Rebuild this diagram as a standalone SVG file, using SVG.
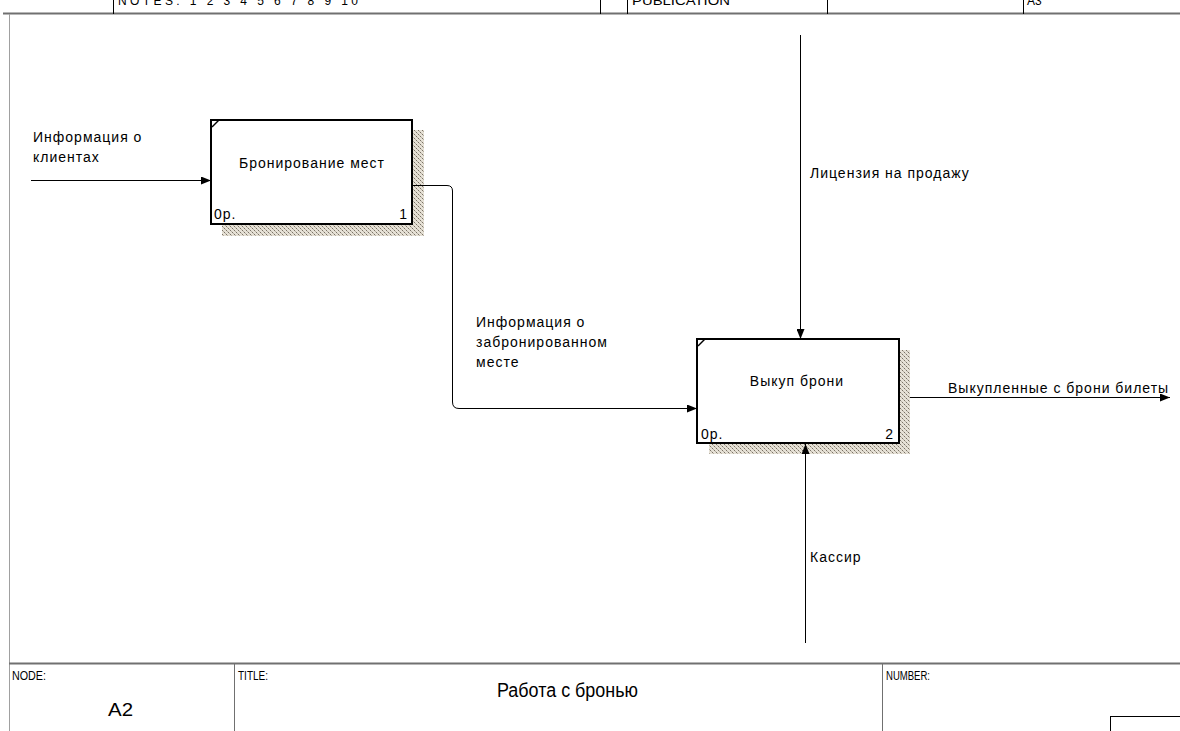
<svg xmlns="http://www.w3.org/2000/svg" width="1180" height="731" viewBox="0 0 1180 731">
  <style>
    .lbl { font-family: "Liberation Sans", Arial, sans-serif; font-size: 14px; letter-spacing: 1px; fill: #000; }
    .frm { font-family: "Liberation Sans", Arial, sans-serif; font-size: 12px; fill: #000; }
    .box { fill: #fff; stroke: #000; stroke-width: 2; }
    .shadow { fill: url(#hatch); }
    .wire { fill: none; stroke: #000; stroke-width: 1; }
    .frame { stroke: #707070; stroke-width: 2; fill: none; }
    .thin { stroke: #000; stroke-width: 1; fill: none; }
  </style>
  <defs>
    <pattern id="hatch" width="4" height="4" patternUnits="userSpaceOnUse">
      <rect width="4" height="4" fill="#e6e1d6"/>
      <rect x="0" y="0" width="1" height="1" fill="#7a7266"/>
      <rect x="2" y="2" width="1" height="1" fill="#7a7266"/>
      <rect x="1" y="1" width="1" height="1" fill="#b8b1a4"/>
      <rect x="3" y="3" width="1" height="1" fill="#b8b1a4"/>
    </pattern>
    <marker id="arr" markerWidth="10" markerHeight="8" refX="10" refY="4" orient="auto" markerUnits="userSpaceOnUse">
      <path d="M0,0 L10,4 L0,8 Z" fill="#000"/>
    </marker>
    <clipPath id="topclip"><rect x="0" y="0" width="1180" height="12"/></clipPath>
  </defs>

  <!-- frame: header strip (cut at the top edge) -->
  <g id="header">
    <g clip-path="url(#topclip)">
      <text class="frm" x="118" y="5" font-size="11" textLength="240" lengthAdjust="spacing">NOTES:  1  2  3  4  5  6  7  8  9  10</text>
      <text class="frm" x="632" y="5" font-size="11" textLength="98" lengthAdjust="spacingAndGlyphs">PUBLICATION</text>
      <text class="frm" x="1027" y="5" font-size="11">A3</text>
    </g>
    <line class="frame" x1="3" y1="13.5" x2="1180" y2="13.5"/>
    <line class="thin" x1="113.5" y1="0" x2="113.5" y2="14"/>
    <line class="thin" x1="600.5" y1="0" x2="600.5" y2="14"/>
    <line class="thin" x1="627.5" y1="0" x2="627.5" y2="14"/>
    <line class="thin" x1="827.5" y1="0" x2="827.5" y2="14"/>
    <line class="thin" x1="1023.5" y1="0" x2="1023.5" y2="14"/>
    <line x1="9.5" y1="14" x2="9.5" y2="731" stroke="#a0a0a0" stroke-width="1"/>
  </g>

  <!-- frame: footer -->
  <g id="footer">
    <line class="frame" x1="9" y1="663.5" x2="1180" y2="663.5"/>
    <line x1="234.5" y1="664" x2="234.5" y2="731" stroke="#707070" stroke-width="1"/>
    <line x1="882.5" y1="664" x2="882.5" y2="731" stroke="#707070" stroke-width="1"/>
    <text class="frm" x="12" y="680" textLength="34" lengthAdjust="spacingAndGlyphs">NODE:</text>
    <text class="frm" x="238" y="680" textLength="30" lengthAdjust="spacingAndGlyphs">TITLE:</text>
    <text class="frm" x="886" y="680" textLength="44" lengthAdjust="spacingAndGlyphs">NUMBER:</text>
    <text x="108" y="716" font-family="Liberation Sans, Arial, sans-serif" font-size="19" textLength="25" lengthAdjust="spacingAndGlyphs">A2</text>
    <text x="497" y="697" font-family="Liberation Sans, Arial, sans-serif" font-size="20" textLength="141" lengthAdjust="spacingAndGlyphs">Работа с бронью</text>
    <rect x="1110.5" y="716.5" width="75" height="20" fill="none" stroke="#000" stroke-width="1"/>
  </g>

  <!-- activity A21 -->
  <g id="node-1">
    <rect class="shadow" x="413" y="130" width="11" height="106"/>
    <rect class="shadow" x="222" y="225" width="202" height="11"/>
    <rect class="box" x="211" y="120" width="201" height="104"/>
    <line x1="212" y1="127" x2="219" y2="120" stroke="#000" stroke-width="1.5"/>
    <text class="lbl" x="312" y="168" text-anchor="middle">Бронирование мест</text>
    <text class="lbl" x="214" y="219">0р.</text>
    <text class="lbl" x="408" y="219" text-anchor="end" letter-spacing="0">1</text>
  </g>

  <!-- activity A22 -->
  <g id="node-2">
    <rect class="shadow" x="899" y="350" width="11" height="104"/>
    <rect class="shadow" x="709" y="443" width="201" height="11"/>
    <rect class="box" x="697" y="339" width="202" height="104"/>
    <line x1="698" y1="346" x2="705" y2="339" stroke="#000" stroke-width="1.5"/>
    <text class="lbl" x="797" y="386" text-anchor="middle">Выкуп брони</text>
    <text class="lbl" x="701" y="439">0р.</text>
    <text class="lbl" x="894" y="439" text-anchor="end" letter-spacing="0">2</text>
  </g>

  <!-- arrows -->
  <g id="connectors">
    <line class="wire" x1="31" y1="180.5" x2="211" y2="180.5" marker-end="url(#arr)"/>
    <path class="wire" d="M413,185.5 H447 Q452.5,185.5 452.5,191 V402 Q452.5,408.5 459,408.5 H697" marker-end="url(#arr)"/>
    <line class="wire" x1="800.5" y1="35" x2="800.5" y2="339" marker-end="url(#arr)"/>
    <line class="wire" x1="805.5" y1="643" x2="805.5" y2="444" marker-end="url(#arr)"/>
    <line class="wire" x1="910" y1="397.5" x2="1170" y2="397.5" marker-end="url(#arr)"/>
  </g>

  <!-- arrow labels -->
  <g id="labels">
    <text class="lbl" x="33" y="142">Информация о</text>
    <text class="lbl" x="33" y="162">клиентах</text>
    <text class="lbl" x="476" y="327">Информация о</text>
    <text class="lbl" x="476" y="347">забронированном</text>
    <text class="lbl" x="476" y="367">месте</text>
    <text class="lbl" x="810" y="178">Лицензия на продажу</text>
    <text class="lbl" x="810" y="562">Кассир</text>
    <text class="lbl" x="948" y="393">Выкупленные с брони билеты</text>
  </g>
</svg>
